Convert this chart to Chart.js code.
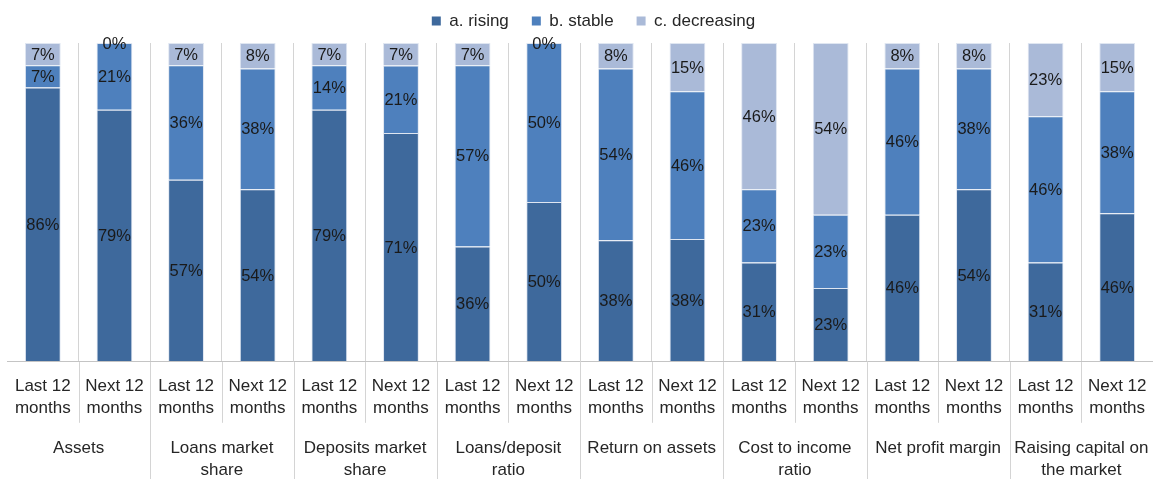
<!DOCTYPE html>
<html>
<head>
<meta charset="utf-8">
<script src="https://cdn.jsdelivr.net/npm/chart.js@4/dist/chart.umd.min.js"></script>
<style>
  html, body { margin: 0; padding: 0; background: #fff; overflow: hidden; }
  #wrap { width: 1153px; height: 479px; position: relative; }
  canvas { display: block; }
</style>
</head>
<body>
<div id="wrap"><canvas id="c" width="1153" height="479"></canvas></div>
<script>
const periods = [["Last 12", "months"], ["Next 12", "months"]];
const groups = [
  ["Assets"],
  ["Loans market", "share"],
  ["Deposits market", "share"],
  ["Loans/deposit", "ratio"],
  ["Return on assets"],
  ["Cost to income", "ratio"],
  ["Net profit margin"],
  ["Raising capital on", "the market"]
];
const seriesNames = ["a. rising", "b. stable", "c. decreasing"];
// order: per group, Last 12 months then Next 12 months
const rising     = [86, 79, 57, 54, 79, 71, 36, 50, 38, 38, 31, 23, 46, 54, 31, 46];
const stable     = [ 7, 21, 36, 38, 14, 21, 57, 50, 54, 46, 23, 23, 46, 38, 46, 38];
const decreasing = [ 7,  0,  7,  8,  7,  7,  7,  0,  8, 15, 46, 54,  8,  8, 23, 15];
const colors = ["#3E699C", "#4E80BD", "#AABAD8"];

const categories = [];
groups.forEach(() => periods.forEach(p => categories.push(p)));
const raw = [rising, stable, decreasing];
const totals = rising.map((_, i) => rising[i] + stable[i] + decreasing[i]);

const FONT = "'Liberation Sans', Arial, sans-serif";
const SEP = '#d4d4d4';
const AXIS_FONT = { family: FONT, size: 17, lineHeight: 1.3 };

const labelPlugin = {
  id: 'segLabels',
  afterLayout(chart) {
    const lg = chart.legend;
    if (lg) { lg.left += 12; lg.right += 12; lg.top -= 3.5; lg.bottom -= 3.5; }
  },
  afterDatasetsDraw(chart) {
    const ctx = chart.ctx;
    ctx.save();
    ctx.font = "16.5px " + FONT;
    ctx.fillStyle = "#1a1a1a";
    ctx.textAlign = "center";
    ctx.textBaseline = "middle";
    chart.data.datasets.forEach((ds, di) => {
      const meta = chart.getDatasetMeta(di);
      meta.data.forEach((bar, i) => {
        const y = (bar.y + bar.base) / 2;
        ctx.fillText(raw[di][i] + "%", bar.x, y + 1);
      });
    });
    ctx.restore();
  },
  afterDraw(chart) {
    // separators in the category-label area, placed from the scales
    const xs = chart.scales.x;
    const ctx = chart.ctx;
    const lh = AXIS_FONT.size * AXIS_FONT.lineHeight;
    const innerEnd = xs.top + xs.options.ticks.padding + 2 * lh + 3;
    ctx.save();
    ctx.strokeStyle = SEP;
    ctx.lineWidth = 1;
    const n = categories.length;
    for (let i = 1; i < n; i++) {
      const px = Math.round((xs.getPixelForValue(i - 1) + xs.getPixelForValue(i)) / 2) + 0.5;
      const groupEdge = (i % periods.length) === 0;
      const yEnd = groupEdge ? chart.height : innerEnd;
      ctx.beginPath();
      ctx.moveTo(px, xs.top + 1);
      ctx.lineTo(px, yEnd);
      ctx.stroke();
    }
    ctx.restore();
  }
};

const edgeAware = (col) => (c) => (c.index === undefined || c.index === 0) ? 'rgba(0,0,0,0)' : col;
const noSidePadding = (scale) => { scale.paddingLeft = 0; scale.paddingRight = 0; };

new Chart(document.getElementById('c'), {
  type: 'bar',
  data: {
    labels: categories,
    datasets: raw.map((vals, di) => ({
      label: seriesNames[di],
      data: vals.map((v, i) => v / totals[i] * 100),
      backgroundColor: colors[di],
      borderColor: "#dfe6f1",
      borderWidth: 1,
      borderSkipped: 'start',
      categoryPercentage: 1,
      barPercentage: 0.5
    }))
  },
  options: {
    responsive: false,
    animation: false,
    devicePixelRatio: 1,
    layout: { padding: { top: -7, left: 7, right: -3, bottom: -5.5 } },
    plugins: {
      tooltip: { enabled: false },
      legend: {
        position: 'top',
        labels: {
          boxWidth: 9,
          boxHeight: 9,
          padding: 23,
          color: "#262626",
          font: { family: FONT, size: 17 },
          generateLabels(chart) {
            const items = Chart.defaults.plugins.legend.labels.generateLabels(chart);
            items.forEach(it => { it.strokeStyle = it.fillStyle; it.lineWidth = 0; });
            return items;
          }
        }
      }
    },
    scales: {
      x: {
        type: 'category',
        stacked: true,
        offset: true,
        afterFit: noSidePadding,
        grid: {
          offset: true,
          display: true,
          drawOnChartArea: true,
          drawTicks: false,
          color: edgeAware(SEP),
          lineWidth: 1
        },
        border: { display: true, color: '#c4c4c4', width: 1 },
        ticks: {
          autoSkip: false,
          maxRotation: 0,
          minRotation: 0,
          padding: 14.5,
          color: "#262626",
          font: AXIS_FONT
        }
      },
      x2: {
        type: 'category',
        position: 'bottom',
        labels: groups,
        offset: true,
        afterFit: noSidePadding,
        grid: { display: false, drawTicks: false },
        border: { display: false },
        ticks: {
          autoSkip: false,
          maxRotation: 0,
          minRotation: 0,
          padding: 3,
          color: "#262626",
          font: AXIS_FONT
        }
      },
      y: {
        stacked: true,
        display: false,
        min: 0,
        max: 100
      }
    }
  },
  plugins: [labelPlugin]
});
</script>
</body>
</html>
